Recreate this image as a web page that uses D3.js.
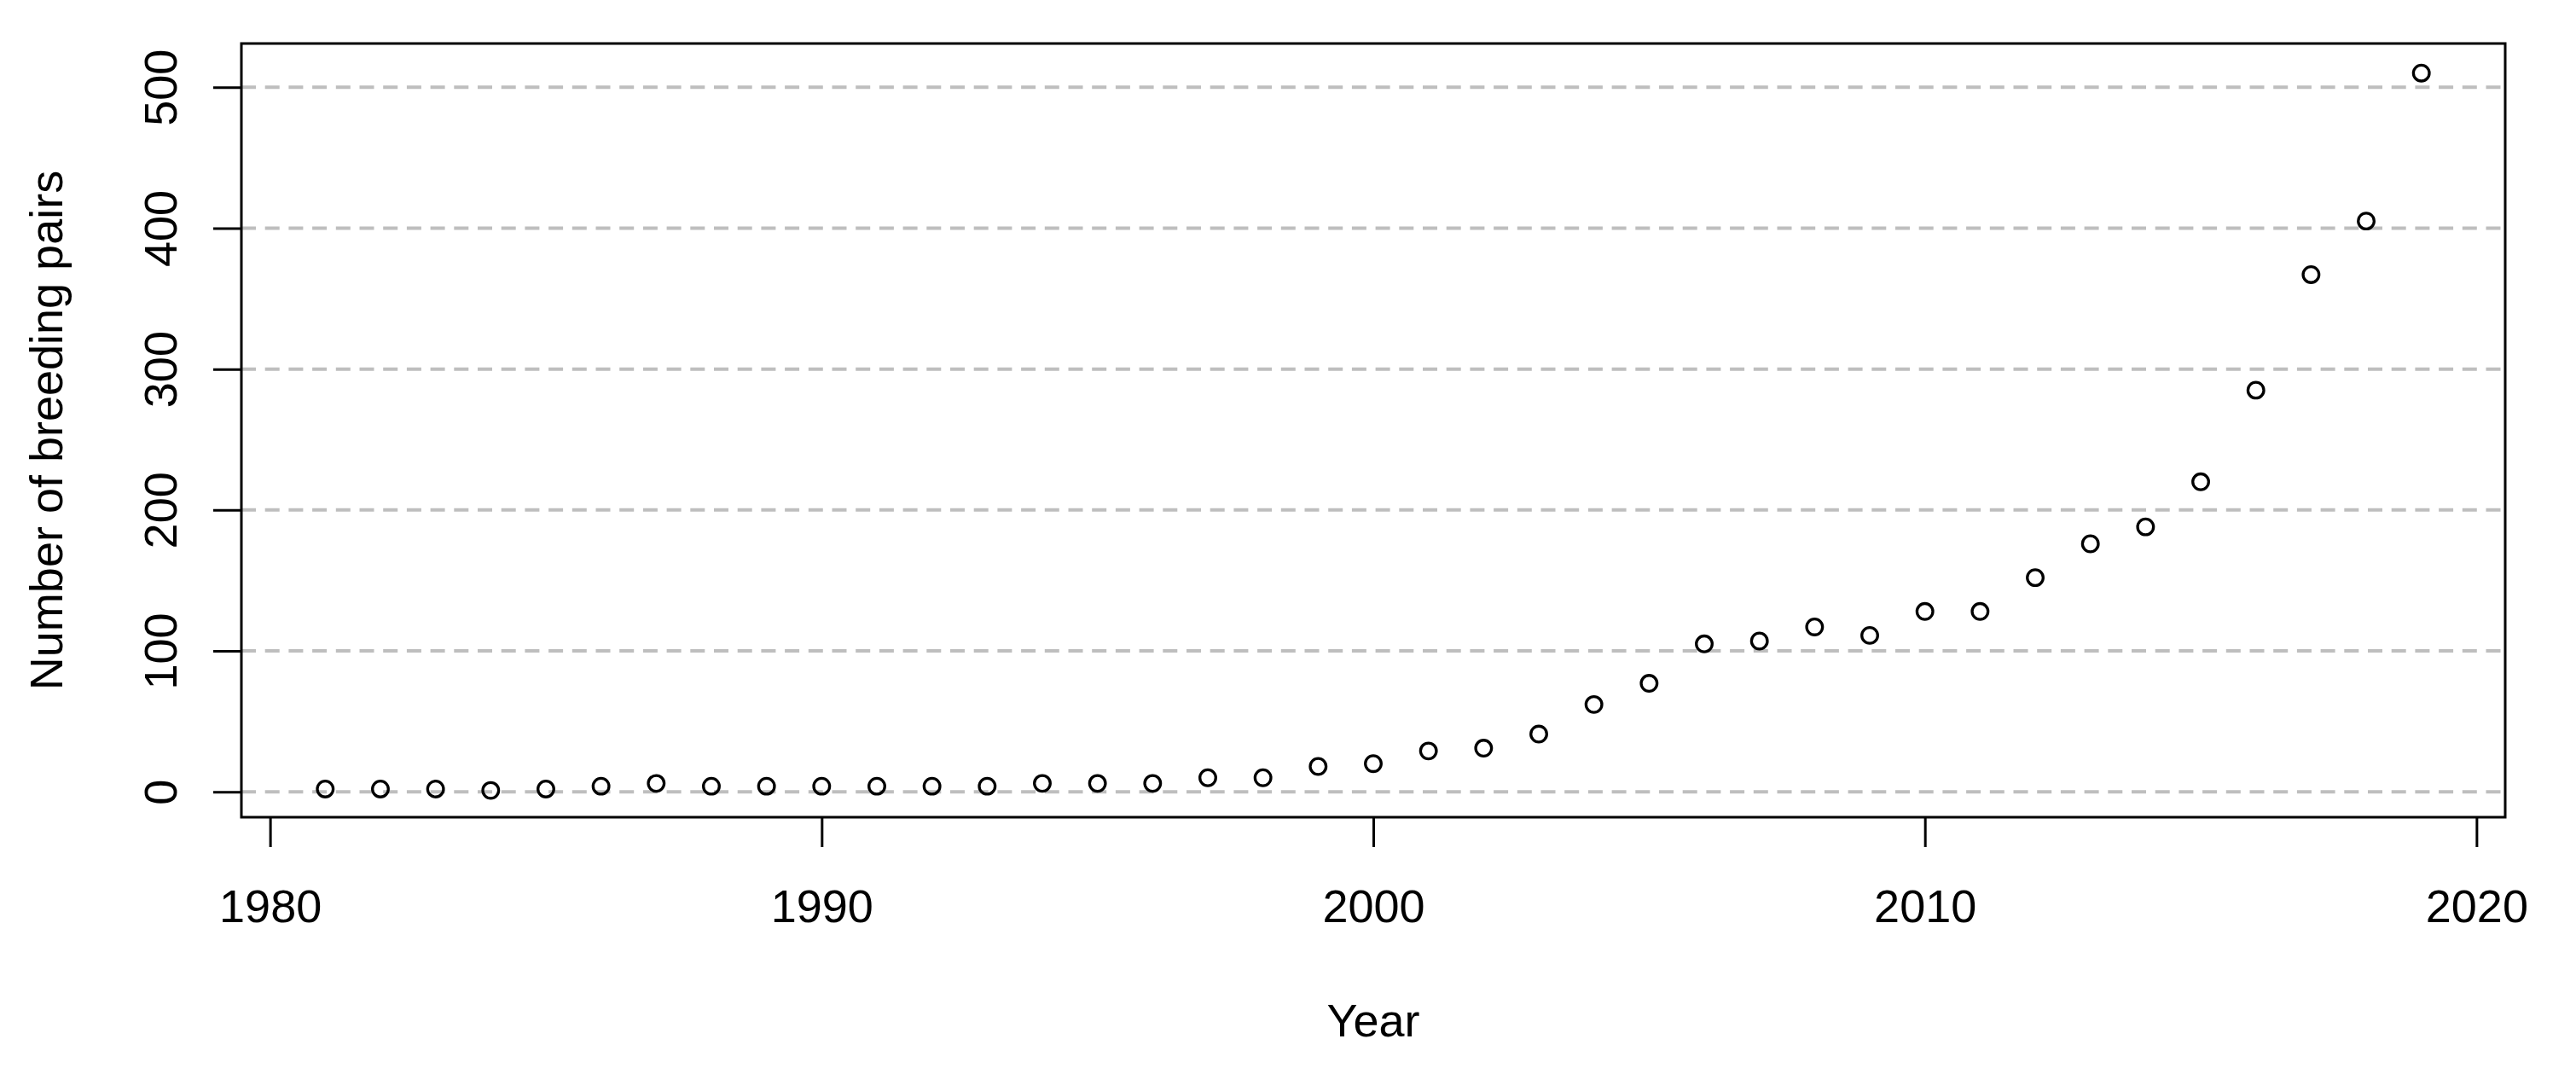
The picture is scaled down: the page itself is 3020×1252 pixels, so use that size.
<!DOCTYPE html>
<html>
<head>
<meta charset="utf-8">
<script src="https://cdn.jsdelivr.net/npm/d3@7"></script>
<style>
  html, body { margin: 0; padding: 0; background: #ffffff; }
  svg { display: block; }
  text { font-family: "Liberation Sans", Arial, sans-serif; fill: #000; }
</style>
</head>
<body>
<svg id="chart" width="3020" height="1252"></svg>
<script>
const years = [1981,1982,1983,1984,1985,1986,1987,1988,1989,1990,1991,1992,1993,1994,1995,1996,1997,1998,1999,2000,2001,2002,2003,2004,2005,2006,2007,2008,2009,2010,2011,2012,2013,2014,2015,2016,2017,2018,2019];
const pairs = [2,2,2,1,2,4,6,4,4,4,4,4,4,6,6,6,10,10,18,20,29,31,41,62,77,105,107,117,111,128,128,152,176,188,220,285,367,405,510];
const xTicks = [1980,1990,2000,2010,2020];
const yTicks = [0,100,200,300,400,500];
const xLabel = "Year";
const yLabel = "Number of breeding pairs";

const W = 3020, H = 1252;
const plot = { left: 283, right: 2937, top: 51, bottom: 958 };
const fontSize = 54;

const svg = d3.select("#chart");
svg.append("rect").attr("width", W).attr("height", H).attr("fill", "#fff");

const x = d3.scaleLinear().domain([1979.48, 2020.52]).range([plot.left, plot.right]);
const y = d3.scaleLinear().domain([-18.0, 531.0]).range([plot.bottom, plot.top]);

// grid lines
svg.append("g").selectAll("line").data(yTicks).join("line")
  .attr("x1", plot.left).attr("x2", plot.right)
  .attr("y1", d => y(d)).attr("y2", d => y(d))
  .attr("stroke", "#bebebe").attr("stroke-width", 4)
  .attr("stroke-dasharray", "17,10.7");

// points
svg.append("g").selectAll("circle").data(years).join("circle")
  .attr("cx", d => x(d)).attr("cy", (d, i) => y(pairs[i]))
  .attr("r", 9.3).attr("fill", "none")
  .attr("stroke", "#000").attr("stroke-width", 3.3);

// bottom axis
const gx = svg.append("g").attr("transform", `translate(0,${plot.bottom})`)
  .call(d3.axisBottom(x).tickValues(xTicks).tickFormat(d3.format("d")).tickSize(35).tickPadding(50));
gx.select(".domain").remove();
gx.selectAll(".tick line").attr("stroke", "#000").attr("stroke-width", 3);
gx.selectAll(".tick text").attr("font-size", fontSize)
  .attr("font-family", "'Liberation Sans', Arial, sans-serif").attr("fill", "#000");

// left axis
const gy = svg.append("g").attr("transform", `translate(${plot.left},0)`)
  .call(d3.axisLeft(y).tickValues(yTicks).tickSize(33));
gy.select(".domain").remove();
gy.selectAll(".tick line").attr("stroke", "#000").attr("stroke-width", 3);
gy.selectAll(".tick text")
  .attr("x", null).attr("y", null).attr("dy", null)
  .attr("text-anchor", "middle")
  .attr("transform", "translate(-76,0) rotate(-90)")
  .attr("font-size", fontSize)
  .attr("font-family", "'Liberation Sans', Arial, sans-serif").attr("fill", "#000");

// box
svg.append("rect")
  .attr("x", plot.left).attr("y", plot.top)
  .attr("width", plot.right - plot.left).attr("height", plot.bottom - plot.top)
  .attr("fill", "none").attr("stroke", "#000").attr("stroke-width", 3);

// axis titles
svg.append("text").attr("x", (plot.left + plot.right) / 2).attr("y", 1215)
  .attr("text-anchor", "middle").attr("font-size", fontSize).text(xLabel);
svg.append("text")
  .attr("transform", `translate(73,${(plot.top + plot.bottom) / 2}) rotate(-90)`)
  .attr("text-anchor", "middle").attr("font-size", fontSize).text(yLabel);
</script>
</body>
</html>
